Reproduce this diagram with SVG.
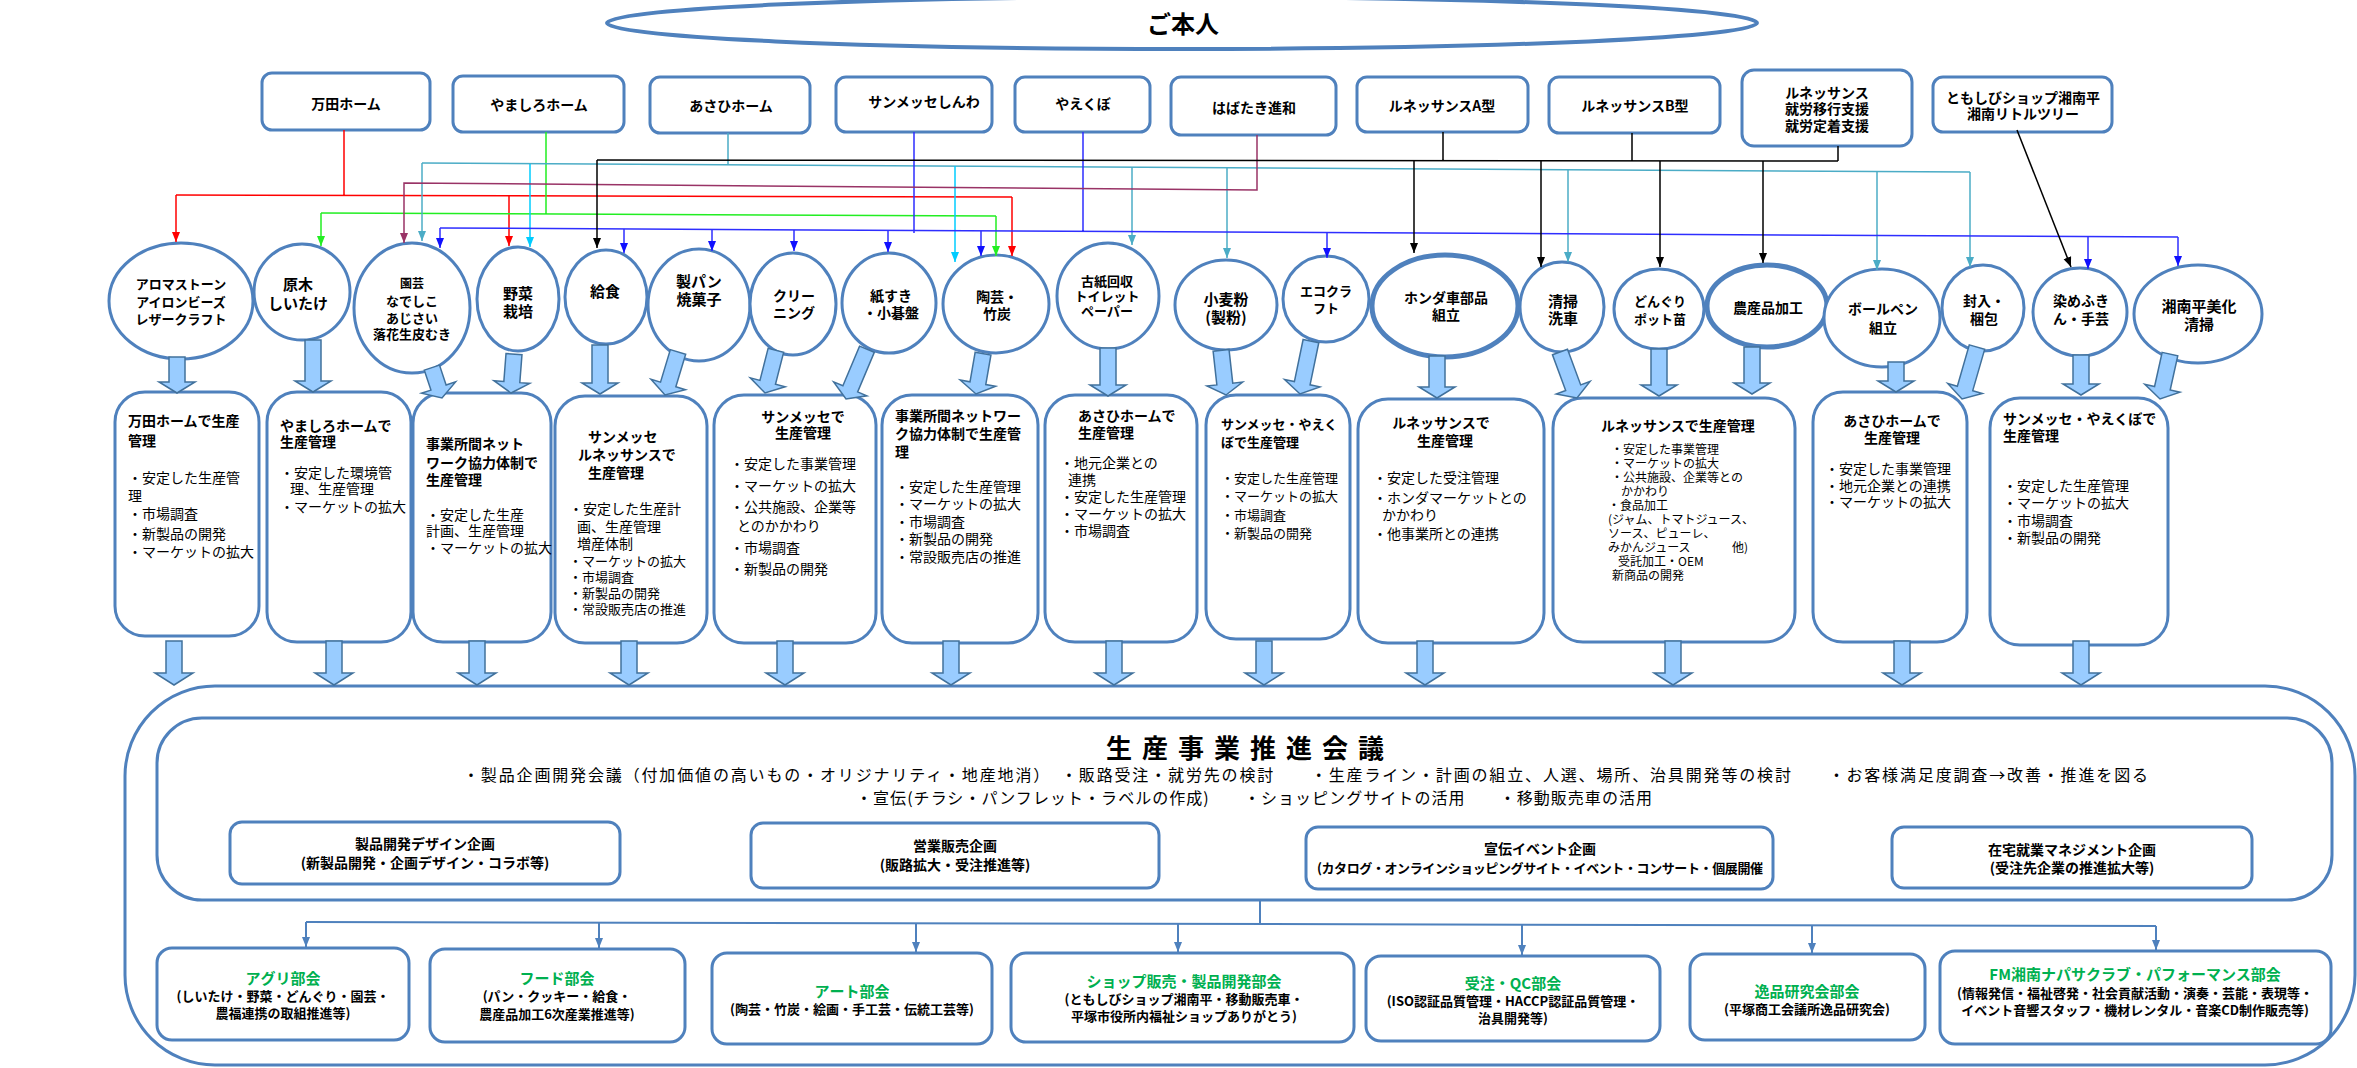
<svg xmlns="http://www.w3.org/2000/svg" width="2357" height="1068" viewBox="0 0 2357 1068">
<defs>
<style>
.nd{fill:#fff;stroke:#4F81BD;stroke-width:3}
.nd5{fill:#fff;stroke:#4F81BD;stroke-width:5}
text{font-family:'Noto Sans CJK JP','Noto Sans CJK SC',sans-serif;dominant-baseline:central;fill:#000}
.b{font-weight:bold}
.m{text-anchor:middle}
.g{fill:#00B050;font-weight:bold;font-size:15px}
.ba{fill:#99CCFF;stroke:#41719C;stroke-width:1.5}
.c{fill:none;stroke-width:1.5}
.red{stroke:#FF0000}.grn{stroke:#22EE22}.tea{stroke:#4BACC6}.cya{stroke:#00CCFF}.blu{stroke:#2E2EFF}.mar{stroke:#993366}.blk{stroke:#000}
.sub{fill:none;stroke:#4F81BD;stroke-width:2}
.f13{font-size:13px}.f14{font-size:14px}.f15{font-size:15px}.f16{font-size:16px}.f12{font-size:12px}
</style>
<marker id="mr" viewBox="0 0 10 10" refX="10" refY="5" markerWidth="10" markerHeight="10" markerUnits="userSpaceOnUse" orient="auto"><path d="M0,1L10,5L0,9z" fill="#FF0000"/></marker>
<marker id="mg" viewBox="0 0 10 10" refX="10" refY="5" markerWidth="10" markerHeight="10" markerUnits="userSpaceOnUse" orient="auto"><path d="M0,1L10,5L0,9z" fill="#22EE22"/></marker>
<marker id="mt" viewBox="0 0 10 10" refX="10" refY="5" markerWidth="10" markerHeight="10" markerUnits="userSpaceOnUse" orient="auto"><path d="M0,1L10,5L0,9z" fill="#4BACC6"/></marker>
<marker id="mc" viewBox="0 0 10 10" refX="10" refY="5" markerWidth="10" markerHeight="10" markerUnits="userSpaceOnUse" orient="auto"><path d="M0,1L10,5L0,9z" fill="#00CCFF"/></marker>
<marker id="mb" viewBox="0 0 10 10" refX="10" refY="5" markerWidth="10" markerHeight="10" markerUnits="userSpaceOnUse" orient="auto"><path d="M0,1L10,5L0,9z" fill="#1010FF"/></marker>
<marker id="mm" viewBox="0 0 10 10" refX="10" refY="5" markerWidth="10" markerHeight="10" markerUnits="userSpaceOnUse" orient="auto"><path d="M0,1L10,5L0,9z" fill="#993366"/></marker>
<marker id="mk" viewBox="0 0 10 10" refX="10" refY="5" markerWidth="10" markerHeight="10" markerUnits="userSpaceOnUse" orient="auto"><path d="M0,1L10,5L0,9z" fill="#000"/></marker>
<marker id="ms" viewBox="0 0 10 10" refX="10" refY="5" markerWidth="10" markerHeight="10" markerUnits="userSpaceOnUse" orient="auto"><path d="M0,1L10,5L0,9z" fill="#4F81BD"/></marker>
</defs>
<rect width="2357" height="1068" fill="#fff"/>

<g id="honnin">
<ellipse cx="1182" cy="23" rx="575" ry="26" fill="#fff" stroke="#4F81BD" stroke-width="4"/>
<text x="1183" y="22" class="b m" font-size="24">ご本人</text>
</g>

<g id="top-boxes">
<g id="t-manda"><rect x="262" y="73" width="168" height="57" rx="10" class="nd"/><text x="346" y="103" class="b m f14">万田ホーム</text></g>
<g id="t-yamashiro"><rect x="453" y="76" width="171" height="56" rx="10" class="nd"/><text x="539" y="104" class="b m f14">やましろホーム</text></g>
<g id="t-asahi"><rect x="650" y="77" width="160" height="56" rx="10" class="nd"/><text x="731" y="105" class="b m f14">あさひホーム</text></g>
<g id="t-sunmesse"><rect x="836" y="77" width="156" height="55" rx="10" class="nd"/><text x="924" y="101" class="b m f14">サンメッセしんわ</text></g>
<g id="t-yaekubo"><rect x="1015" y="77" width="135" height="55" rx="10" class="nd"/><text x="1083" y="103" class="b m f14">やえくぼ</text></g>
<g id="t-habataki"><rect x="1171" y="77" width="165" height="58" rx="10" class="nd"/><text x="1254" y="107" class="b m f14">はばたき進和</text></g>
<g id="t-renA"><rect x="1357" y="77" width="171" height="55" rx="10" class="nd"/><text x="1442" y="105" class="b m f14">ルネッサンスA型</text></g>
<g id="t-renB"><rect x="1549" y="77" width="171" height="56" rx="10" class="nd"/><text x="1635" y="105" class="b m f14">ルネッサンスB型</text></g>
<g id="t-renS"><rect x="1742" y="70" width="170" height="76" rx="12" class="nd"/><text x="1827" y="92" class="b m f14">ルネッサンス</text><text x="1827" y="108" class="b m f14">就労移行支援</text><text x="1827" y="125" class="b m f14">就労定着支援</text></g>
<g id="t-tomoshibi"><rect x="1933" y="77" width="179" height="55" rx="10" class="nd"/><text x="2023" y="97" class="b m f14">ともしびショップ湘南平</text><text x="2023" y="113" class="b m f14">湘南リトルツリー</text></g>
</g>

<g id="activities">
<g id="e-aroma"><ellipse cx="181" cy="301" rx="72" ry="58" class="nd"/><text x="181" y="283" class="b m f13">アロマストーン</text><text x="181" y="301" class="b m f13">アイロンビーズ</text><text x="181" y="318" class="b m f13">レザークラフト</text></g>
<g id="e-genboku"><ellipse cx="302" cy="292" rx="48" ry="48" class="nd"/><text x="298" y="283" class="b m f15">原木</text><text x="298" y="302" class="b m f15">しいたけ</text></g>
<g id="e-engei"><ellipse cx="412" cy="308" rx="58" ry="65" class="nd"/><text x="412" y="282" class="b m f12">園芸</text><text x="412" y="300" class="b m f13">なでしこ</text><text x="412" y="317" class="b m f13">あじさい</text><text x="412" y="333" class="b m f13">落花生皮むき</text></g>
<g id="e-yasai"><ellipse cx="518" cy="299" rx="41" ry="52" class="nd"/><text x="518" y="292" class="b m f15">野菜</text><text x="518" y="310" class="b m f15">栽培</text></g>
<g id="e-kyushoku"><ellipse cx="606" cy="297" rx="41" ry="47" class="nd"/><text x="605" y="290" class="b m f15">給食</text></g>
<g id="e-seipan"><ellipse cx="699" cy="305" rx="51" ry="56" class="nd"/><text x="699" y="280" class="b m f15">製パン</text><text x="699" y="298" class="b m f15">焼菓子</text></g>
<g id="e-cleaning"><ellipse cx="793" cy="304" rx="43" ry="51" class="nd"/><text x="794" y="295" class="b m f14">クリー</text><text x="794" y="312" class="b m f14">ニング</text></g>
<g id="e-kamisuki"><ellipse cx="889" cy="303" rx="47" ry="50" class="nd"/><text x="891" y="295" class="b m f14">紙すき</text><text x="891" y="312" class="b m f14">・小碁盤</text></g>
<g id="e-tougei"><ellipse cx="996" cy="304" rx="53" ry="49" class="nd"/><text x="997" y="296" class="b m f14">陶芸・</text><text x="997" y="313" class="b m f14">竹炭</text></g>
<g id="e-koshi"><ellipse cx="1108" cy="296" rx="51" ry="53" class="nd"/><text x="1107" y="280" class="b m f13">古紙回収</text><text x="1107" y="295" class="b m f13">トイレット</text><text x="1107" y="310" class="b m f13">ペーパー</text></g>
<g id="e-komugi"><ellipse cx="1226" cy="305" rx="51" ry="45" class="nd"/><text x="1226" y="298" class="b m f15">小麦粉</text><text x="1226" y="316" class="b m f15">(製粉)</text></g>
<g id="e-ecocraft"><ellipse cx="1326" cy="299" rx="43" ry="43" class="nd"/><text x="1326" y="290" class="b m f13">エコクラ</text><text x="1326" y="307" class="b m f13">フト</text></g>
<g id="e-honda"><ellipse cx="1445" cy="306" rx="73" ry="51" class="nd5"/><text x="1446" y="297" class="b m f14">ホンダ車部品</text><text x="1446" y="314" class="b m f14">組立</text></g>
<g id="e-seisou"><ellipse cx="1562" cy="307" rx="42" ry="45" class="nd"/><text x="1563" y="300" class="b m f15">清掃</text><text x="1563" y="317" class="b m f15">洗車</text></g>
<g id="e-donguri"><ellipse cx="1659" cy="309" rx="45" ry="40" class="nd"/><text x="1660" y="300" class="b m f13">どんぐり</text><text x="1660" y="318" class="b m f13">ポット苗</text></g>
<g id="e-nousan"><ellipse cx="1767" cy="306" rx="60" ry="41" class="nd5"/><text x="1768" y="307" class="b m f14">農産品加工</text></g>
<g id="e-ballpen"><ellipse cx="1882" cy="318" rx="58" ry="49" class="nd"/><text x="1883" y="308" class="b m f14">ボールペン</text><text x="1883" y="327" class="b m f14">組立</text></g>
<g id="e-fuunyu"><ellipse cx="1983" cy="308" rx="41" ry="43" class="nd"/><text x="1984" y="300" class="b m f14">封入・</text><text x="1984" y="318" class="b m f14">梱包</text></g>
<g id="e-somefukin"><ellipse cx="2080" cy="312" rx="47" ry="44" class="nd"/><text x="2081" y="300" class="b m f14">染めふき</text><text x="2081" y="318" class="b m f14">ん・手芸</text></g>
<g id="e-shonan"><ellipse cx="2198" cy="314" rx="64" ry="49" class="nd"/><text x="2199" y="305" class="b m f15">湘南平美化</text><text x="2199" y="323" class="b m f15">清掃</text></g>
</g>

<g id="production">
<g id="p1"><rect x="115" y="392" width="144" height="244" rx="30" class="nd"/>
<text x="128" y="420" class="b f14">万田ホームで生産</text><text x="128" y="440" class="b f14">管理</text>
<text x="128" y="477" class="f14">・安定した生産管</text><text x="128" y="495" class="f14">理</text><text x="128" y="513" class="f14">・市場調査</text><text x="128" y="533" class="f14">・新製品の開発</text><text x="128" y="551" class="f14">・マーケットの拡大</text></g>
<g id="p2"><rect x="267" y="392" width="144" height="250" rx="30" class="nd"/>
<text x="280" y="425" class="b f14">やましろホームで</text><text x="280" y="441" class="b f14">生産管理</text>
<text x="280" y="472" class="f14">・安定した環境管</text><text x="290" y="488" class="f14">理、生産管理</text><text x="280" y="506" class="f14">・マーケットの拡大</text></g>
<g id="p3"><rect x="413" y="393" width="138" height="249" rx="30" class="nd"/>
<text x="426" y="443" class="b f14">事業所間ネット</text><text x="426" y="462" class="b f14">ワーク協力体制で</text><text x="426" y="479" class="b f14">生産管理</text>
<text x="426" y="514" class="f14">・安定した生産</text><text x="426" y="530" class="f14">計画、生産管理</text><text x="426" y="547" class="f14">・マーケットの拡大</text></g>
<g id="p4"><rect x="555" y="396" width="152" height="247" rx="30" class="nd"/>
<text x="588" y="436" class="b f14">サンメッセ</text><text x="578" y="454" class="b f14">ルネッサンスで</text><text x="588" y="472" class="b f14">生産管理</text>
<text x="569" y="508" class="f14">・安定した生産計</text><text x="577" y="526" class="f14">画、生産管理</text><text x="577" y="543" class="f14">増産体制</text><text x="569" y="560" class="f13">・マーケットの拡大</text><text x="569" y="576" class="f13">・市場調査</text><text x="569" y="592" class="f13">・新製品の開発</text><text x="569" y="608" class="f13">・常設販売店の推進</text></g>
<g id="p5"><rect x="714" y="395" width="162" height="248" rx="30" class="nd"/>
<text x="803" y="416" class="b m f14">サンメッセで</text><text x="803" y="432" class="b m f14">生産管理</text>
<text x="730" y="463" class="f14">・安定した事業管理</text><text x="730" y="485" class="f14">・マーケットの拡大</text><text x="730" y="506" class="f14">・公共施設、企業等</text><text x="737" y="525" class="f14">とのかかわり</text><text x="730" y="547" class="f14">・市場調査</text><text x="730" y="568" class="f14">・新製品の開発</text></g>
<g id="p6"><rect x="882" y="395" width="156" height="248" rx="30" class="nd"/>
<text x="895" y="415" class="b f14">事業所間ネットワー</text><text x="895" y="433" class="b f14">ク協力体制で生産管</text><text x="895" y="451" class="b f14">理</text>
<text x="895" y="486" class="f14">・安定した生産管理</text><text x="895" y="503" class="f14">・マーケットの拡大</text><text x="895" y="521" class="f14">・市場調査</text><text x="895" y="538" class="f14">・新製品の開発</text><text x="895" y="556" class="f14">・常設販売店の推進</text></g>
<g id="p7"><rect x="1045" y="395" width="152" height="247" rx="30" class="nd"/>
<text x="1078" y="415" class="b f14">あさひホームで</text><text x="1078" y="432" class="b f14">生産管理</text>
<text x="1060" y="462" class="f14">・地元企業との</text><text x="1068" y="479" class="f14">連携</text><text x="1060" y="496" class="f14">・安定した生産管理</text><text x="1060" y="513" class="f14">・マーケットの拡大</text><text x="1060" y="530" class="f14">・市場調査</text></g>
<g id="p8"><rect x="1206" y="395" width="144" height="244" rx="30" class="nd"/>
<text x="1221" y="423" class="b f13">サンメッセ・やえく</text><text x="1221" y="441" class="b f13">ぼで生産管理</text>
<text x="1221" y="477" class="f13">・安定した生産管理</text><text x="1221" y="495" class="f13">・マーケットの拡大</text><text x="1221" y="514" class="f13">・市場調査</text><text x="1221" y="532" class="f13">・新製品の開発</text></g>
<g id="p9"><rect x="1358" y="399" width="186" height="244" rx="30" class="nd"/>
<text x="1441" y="422" class="b m f14">ルネッサンスで</text><text x="1445" y="440" class="b m f14">生産管理</text>
<text x="1373" y="477" class="f14">・安定した受注管理</text><text x="1373" y="497" class="f14">・ホンダマーケットとの</text><text x="1382" y="514" class="f14">かかわり</text><text x="1373" y="533" class="f14">・他事業所との連携</text></g>
<g id="p10"><rect x="1553" y="398" width="242" height="244" rx="30" class="nd"/>
<text x="1601" y="425" class="b f14">ルネッサンスで生産管理</text>
<text x="1611" y="448" class="f12">・安定した事業管理</text><text x="1611" y="462" class="f12">・マーケットの拡大</text><text x="1611" y="476" class="f12">・公共施設、企業等との</text><text x="1621" y="490" class="f12">かかわり</text><text x="1608" y="504" class="f12">・食品加工</text><text x="1608" y="518" class="f12">(ジャム、トマトジュース、</text><text x="1608" y="532" class="f12">ソース、ピューレ、</text><text x="1608" y="546" class="f12">みかんジュース</text><text x="1732" y="546" class="f12">他)</text><text x="1618" y="560" class="f12">受託加工・OEM</text><text x="1612" y="574" class="f12">新商品の開発</text></g>
<g id="p11"><rect x="1813" y="392" width="154" height="250" rx="30" class="nd"/>
<text x="1892" y="420" class="b m f14">あさひホームで</text><text x="1892" y="437" class="b m f14">生産管理</text>
<text x="1825" y="468" class="f14">・安定した事業管理</text><text x="1825" y="485" class="f14">・地元企業との連携</text><text x="1825" y="501" class="f14">・マーケットの拡大</text></g>
<g id="p12"><rect x="1990" y="398" width="178" height="247" rx="30" class="nd"/>
<text x="2003" y="418" class="b f14">サンメッセ・やえくぼで</text><text x="2003" y="435" class="b f14">生産管理</text>
<text x="2003" y="485" class="f14">・安定した生産管理</text><text x="2003" y="502" class="f14">・マーケットの拡大</text><text x="2003" y="520" class="f14">・市場調査</text><text x="2003" y="537" class="f14">・新製品の開発</text></g>
</g>

<g id="council">
<rect x="125" y="686" width="2230" height="379" rx="90" class="nd"/>
<g id="meeting"><rect x="157" y="718" width="2175" height="182" rx="45" class="nd"/>
<text x="1250" y="746" class="b m" font-size="26" letter-spacing="10">生産事業推進会議</text>
<text x="463" y="774" font-size="16" textLength="1685">・製品企画開発会議（付加価値の高いもの・オリジナリティ・地産地消）　・販路受注・就労先の検討　　・生産ライン・計画の組立、人選、場所、治具開発等の検討　　・お客様満足度調査→改善・推進を図る</text>
<text x="856" y="797" font-size="16" textLength="796">・宣伝(チラシ・パンフレット・ラベルの作成)　　・ショッピングサイトの活用　　・移動販売車の活用</text>
</g>
<g id="plan1"><rect x="230" y="822" width="390" height="62" rx="12" class="nd"/><text x="425" y="843" class="b m f14">製品開発デザイン企画</text><text x="425" y="862" class="b m f14">(新製品開発・企画デザイン・コラボ等)</text></g>
<g id="plan2"><rect x="751" y="823" width="408" height="65" rx="12" class="nd"/><text x="955" y="845" class="b m f14">営業販売企画</text><text x="955" y="864" class="b m f14">(販路拡大・受注推進等)</text></g>
<g id="plan3"><rect x="1306" y="827" width="467" height="62" rx="12" class="nd"/><text x="1540" y="848" class="b m f14">宣伝イベント企画</text><text x="1540" y="867" class="b m f13" textLength="446">(カタログ・オンラインショッピングサイト・イベント・コンサート・個展開催</text></g>
<g id="plan4"><rect x="1892" y="827" width="360" height="61" rx="12" class="nd"/><text x="2072" y="849" class="b m f14">在宅就業マネジメント企画</text><text x="2072" y="867" class="b m f14">(受注先企業の推進拡大等)</text></g>
<g id="s-agri"><rect x="157" y="948" width="252" height="92" rx="15" class="nd"/><text x="283" y="977" class="g m">アグリ部会</text><text x="283" y="995" class="b m f13">(しいたけ・野菜・どんぐり・園芸・</text><text x="283" y="1012" class="b m f13">農福連携の取組推進等)</text></g>
<g id="s-food"><rect x="430" y="949" width="255" height="93" rx="15" class="nd"/><text x="557" y="977" class="g m">フード部会</text><text x="557" y="995" class="b m f13">(パン・クッキー・給食・</text><text x="557" y="1013" class="b m f13">農産品加工6次産業推進等)</text></g>
<g id="s-art"><rect x="712" y="953" width="280" height="91" rx="15" class="nd"/><text x="852" y="990" class="g m">アート部会</text><text x="852" y="1008" class="b m f13">(陶芸・竹炭・絵画・手工芸・伝統工芸等)</text></g>
<g id="s-shop"><rect x="1011" y="953" width="343" height="89" rx="15" class="nd"/><text x="1184" y="980" class="g m">ショップ販売・製品開発部会</text><text x="1184" y="998" class="b m f13">(ともしびショップ湘南平・移動販売車・</text><text x="1184" y="1015" class="b m f13">平塚市役所内福祉ショップありがとう)</text></g>
<g id="s-qc"><rect x="1366" y="956" width="294" height="85" rx="15" class="nd"/><text x="1513" y="982" class="g m">受注・QC部会</text><text x="1513" y="1000" class="b m f13">(ISO認証品質管理・HACCP認証品質管理・</text><text x="1513" y="1017" class="b m f13">治具開発等)</text></g>
<g id="s-ippin"><rect x="1690" y="954" width="235" height="86" rx="15" class="nd"/><text x="1807" y="990" class="g m">逸品研究会部会</text><text x="1807" y="1008" class="b m f13">(平塚商工会議所逸品研究会)</text></g>
<g id="s-fm"><rect x="1940" y="951" width="391" height="93" rx="15" class="nd"/><text x="2135" y="973" class="g m">FM湘南ナパサクラブ・パフォーマンス部会</text><text x="2135" y="992" class="b m f13">(情報発信・福祉啓発・社会貢献活動・演奏・芸能・表現等・</text><text x="2135" y="1009" class="b m f13">イベント音響スタッフ・機材レンタル・音楽CD制作販売等)</text></g>
</g>

<g id="connectors">
<path class="c red" d="M344,130V195.4M176,195L1012,197"/>
<path class="c red" marker-end="url(#mr)" d="M176,195V242"/>
<path class="c red" marker-end="url(#mr)" d="M509,196V246"/>
<path class="c red" marker-end="url(#mr)" d="M1012,197V256"/>
<path class="c grn" d="M546,132V214M321,213L996,216"/>
<path class="c grn" marker-end="url(#mg)" d="M321,213V246"/>
<path class="c grn" marker-end="url(#mg)" d="M996,216V256"/>
<path class="c tea" d="M728,133V165M422,163L1970,172"/>
<path class="c tea" marker-end="url(#mt)" d="M422,163V241"/>
<path class="c tea" marker-end="url(#mt)" d="M1132,167V245"/>
<path class="c tea" marker-end="url(#mt)" d="M1227,168V258"/>
<path class="c tea" marker-end="url(#mt)" d="M1568,170V262"/>
<path class="c tea" marker-end="url(#mt)" d="M1877,171V270"/>
<path class="c tea" marker-end="url(#mt)" d="M1970,172V267"/>
<path class="c cya" marker-end="url(#mc)" d="M530,164V247"/>
<path class="c cya" marker-end="url(#mc)" d="M955,166V262"/>
<path class="c blu" d="M914,132V233M1083,132V231M440,228L2178,237"/>
<path class="c blu" marker-end="url(#mb)" d="M440,228V248"/>
<path class="c blu" marker-end="url(#mb)" d="M624,229V253"/>
<path class="c blu" marker-end="url(#mb)" d="M712,229V251"/>
<path class="c blu" marker-end="url(#mb)" d="M794,230V251"/>
<path class="c blu" marker-end="url(#mb)" d="M888,230V252"/>
<path class="c blu" marker-end="url(#mb)" d="M981,231V256"/>
<path class="c blu" marker-end="url(#mb)" d="M1327,233V258"/>
<path class="c blu" marker-end="url(#mb)" d="M2088,236V269"/>
<path class="c blu" marker-end="url(#mb)" d="M2178,237V266"/>
<path class="c mar" marker-end="url(#mm)" d="M1257,135V190L404,183V243"/>
<path class="c blk" d="M1443,132V161M1632,133V161M1838,146V161M597,160L1838,161"/>
<path class="c blk" marker-end="url(#mk)" d="M597,160V248"/>
<path class="c blk" marker-end="url(#mk)" d="M1414,161V253"/>
<path class="c blk" marker-end="url(#mk)" d="M1541,161V267"/>
<path class="c blk" marker-end="url(#mk)" d="M1660,161V267"/>
<path class="c blk" marker-end="url(#mk)" d="M1763,161V263"/>
<path class="c blk" marker-end="url(#mk)" d="M2017,130L2071,267"/>

<g id="block-arrows">
<polygon class="ba" transform="translate(177,393)" points="-8,-36 8,-36 8,-11 18,-11 0,0 -18,-11 -8,-11"/>
<polygon class="ba" transform="translate(313,392)" points="-8,-52 8,-52 8,-11 18,-11 0,0 -18,-11 -8,-11"/>
<polygon class="ba" transform="translate(442,398) rotate(-18.4)" points="-8,-32 8,-32 8,-11 18,-11 0,0 -18,-11 -8,-11"/>
<polygon class="ba" transform="translate(511,393) rotate(4.4)" points="-8,-39 8,-39 8,-11 18,-11 0,0 -18,-11 -8,-11"/>
<polygon class="ba" transform="translate(600,394)" points="-8,-49 8,-49 8,-11 18,-11 0,0 -18,-11 -8,-11"/>
<polygon class="ba" transform="translate(665,395) rotate(16.8)" points="-8,-45 8,-45 8,-11 18,-11 0,0 -18,-11 -8,-11"/>
<polygon class="ba" transform="translate(765,393) rotate(14.3)" points="-8,-44 8,-44 8,-11 18,-11 0,0 -18,-11 -8,-11"/>
<polygon class="ba" transform="translate(846,399) rotate(22.8)" points="-8,-54 8,-54 8,-11 18,-11 0,0 -18,-11 -8,-11"/>
<polygon class="ba" transform="translate(976,394) rotate(9.9)" points="-8,-41 8,-41 8,-11 18,-11 0,0 -18,-11 -8,-11"/>
<polygon class="ba" transform="translate(1108,396)" points="-8,-48 8,-48 8,-11 18,-11 0,0 -18,-11 -8,-11"/>
<polygon class="ba" transform="translate(1226,395) rotate(-6.3)" points="-8,-45 8,-45 8,-11 18,-11 0,0 -18,-11 -8,-11"/>
<polygon class="ba" transform="translate(1300,394) rotate(11.7)" points="-8,-54 8,-54 8,-11 18,-11 0,0 -18,-11 -8,-11"/>
<polygon class="ba" transform="translate(1437,398)" points="-8,-42 8,-42 8,-11 18,-11 0,0 -18,-11 -8,-11"/>
<polygon class="ba" transform="translate(1577,398) rotate(-20.3)" points="-8,-49 8,-49 8,-11 18,-11 0,0 -18,-11 -8,-11"/>
<polygon class="ba" transform="translate(1659,396)" points="-8,-47 8,-47 8,-11 18,-11 0,0 -18,-11 -8,-11"/>
<polygon class="ba" transform="translate(1752,394)" points="-8,-47 8,-47 8,-11 18,-11 0,0 -18,-11 -8,-11"/>
<polygon class="ba" transform="translate(1896,392)" points="-8,-30 8,-30 8,-11 18,-11 0,0 -18,-11 -8,-11"/>
<polygon class="ba" transform="translate(1962,399) rotate(16.1)" points="-8,-54 8,-54 8,-11 18,-11 0,0 -18,-11 -8,-11"/>
<polygon class="ba" transform="translate(2081,395)" points="-8,-40 8,-40 8,-11 18,-11 0,0 -18,-11 -8,-11"/>
<polygon class="ba" transform="translate(2160,399) rotate(12.5)" points="-8,-46 8,-46 8,-11 18,-11 0,0 -18,-11 -8,-11"/>
<polygon class="ba" transform="translate(174,685)" points="-8,-44 8,-44 8,-12 19,-12 0,0 -19,-12 -8,-12"/>
<polygon class="ba" transform="translate(334,685)" points="-8,-44 8,-44 8,-12 19,-12 0,0 -19,-12 -8,-12"/>
<polygon class="ba" transform="translate(477,685)" points="-8,-44 8,-44 8,-12 19,-12 0,0 -19,-12 -8,-12"/>
<polygon class="ba" transform="translate(629,685)" points="-8,-44 8,-44 8,-12 19,-12 0,0 -19,-12 -8,-12"/>
<polygon class="ba" transform="translate(785,685)" points="-8,-44 8,-44 8,-12 19,-12 0,0 -19,-12 -8,-12"/>
<polygon class="ba" transform="translate(951,685)" points="-8,-44 8,-44 8,-12 19,-12 0,0 -19,-12 -8,-12"/>
<polygon class="ba" transform="translate(1114,685)" points="-8,-44 8,-44 8,-12 19,-12 0,0 -19,-12 -8,-12"/>
<polygon class="ba" transform="translate(1264,685)" points="-8,-44 8,-44 8,-12 19,-12 0,0 -19,-12 -8,-12"/>
<polygon class="ba" transform="translate(1425,685)" points="-8,-44 8,-44 8,-12 19,-12 0,0 -19,-12 -8,-12"/>
<polygon class="ba" transform="translate(1673,685)" points="-8,-44 8,-44 8,-12 19,-12 0,0 -19,-12 -8,-12"/>
<polygon class="ba" transform="translate(1902,685)" points="-8,-44 8,-44 8,-12 19,-12 0,0 -19,-12 -8,-12"/>
<polygon class="ba" transform="translate(2081,685)" points="-8,-44 8,-44 8,-12 19,-12 0,0 -19,-12 -8,-12"/>
</g>

<path class="sub" d="M1260,900V924M306,922L2156,926"/>
<path class="sub" marker-end="url(#ms)" d="M306,922V947"/>
<path class="sub" marker-end="url(#ms)" d="M599,923V948"/>
<path class="sub" marker-end="url(#ms)" d="M916,923V952"/>
<path class="sub" marker-end="url(#ms)" d="M1178,924V952"/>
<path class="sub" marker-end="url(#ms)" d="M1522,925V955"/>
<path class="sub" marker-end="url(#ms)" d="M1812,925V953"/>
<path class="sub" marker-end="url(#ms)" d="M2156,926V950"/>
</g>
</svg>
